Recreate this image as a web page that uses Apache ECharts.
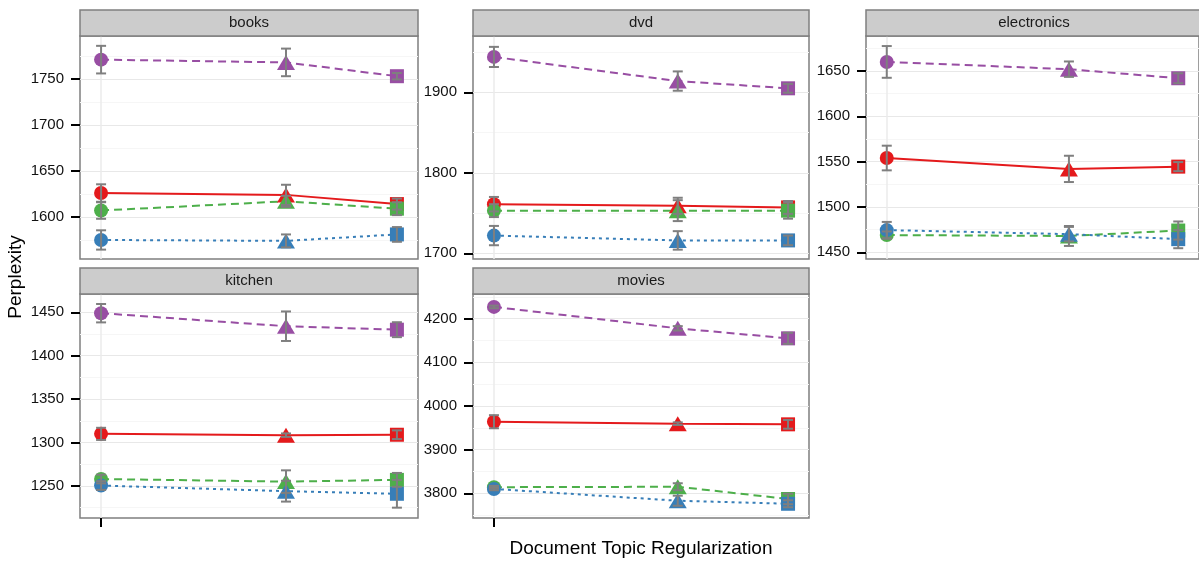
<!DOCTYPE html>
<html>
<head>
<meta charset="utf-8">
<script src="https://cdn.jsdelivr.net/npm/echarts@6/dist/echarts.min.js"></script>
<style>
  html, body { margin: 0; padding: 0; background: #fff; }
  #chart { width: 1199px; height: 564px; }
</style>
</head>
<body>
<div id="chart"></div>
<script>
// facets and x positions
const facets = ['books', 'dvd', 'electronics', 'kitchen', 'movies']
const xValues = [0, 1, 1.6]
const shapes = ['circle', 'triangle', 'rect']
// order: purple, red, green, blue
const groupColors = ['#984EA3', '#E41A1C', '#4DAF4A', '#377EB8']
const groupDash = [[8, 5], 'solid', [8, 5], [3, 4]]

const booksMean = [[1771, 1768, 1753], [1626, 1624, 1614], [1607, 1617, 1609], [1575, 1574, 1581]]
const booksErr = [[15, 15, 3.5], [9.5, 11, 6], [9, 6, 7], [10.5, 7, 8]]
const dvdMean = [[1944, 1914, 1905], [1761, 1759, 1757], [1753, 1753, 1753], [1722, 1716, 1716]]
const dvdErr = [[12.5, 12, 5.5], [9, 10, 8], [8, 13, 10], [12, 11.5, 6]]
const electronicsMean = [[1660, 1652, 1642], [1554, 1542, 1544.5], [1469, 1468, 1474], [1474.5, 1470, 1464.5]]
const electronicsErr = [[17.5, 8.5, 5.5], [13.6, 14.5, 5], [4, 11, 10], [9, 8, 10]]
const kitchenMean = [[1449, 1434, 1430], [1310, 1308.5, 1309], [1258, 1255, 1257], [1250.5, 1244, 1241]]
const kitchenErr = [[10.6, 17, 8.6], [7, 2, 5], [5, 13, 8], [5, 12, 16]]
const moviesMean = [[4227, 4178, 4155], [3964, 3959.5, 3958], [3814, 3815, 3787], [3810, 3783, 3776]]
const moviesErr = [[3, 5, 12.7], [15, 3, 10], [3, 8, 12], [3, 11.5, 8]]

// y tick labels and minor grid values
const booksTicks = [1600, 1650, 1700, 1750]
const dvdTicks = [1700, 1800, 1900]
const electronicsTicks = [1450, 1500, 1550, 1600, 1650]
const kitchenTicks = [1250, 1300, 1350, 1400, 1450]
const moviesTicks = [3800, 3900, 4000, 4100, 4200]
const booksMinor = [1575, 1625, 1675, 1725, 1775]
const dvdMinor = [1750, 1850, 1950]
const electronicsMinor = [1475, 1525, 1575, 1625, 1675]
const kitchenMinor = [1225, 1275, 1325, 1375, 1425]
const moviesMinor = [3750, 3850, 3950, 4050, 4150, 4250]

const means = [booksMean, dvdMean, electronicsMean, kitchenMean, moviesMean]
const errs = [booksErr, dvdErr, electronicsErr, kitchenErr, moviesErr]
const ticks = [booksTicks, dvdTicks, electronicsTicks, kitchenTicks, moviesTicks]
const minors = [booksMinor, dvdMinor, electronicsMinor, kitchenMinor, moviesMinor]
const yRanges = [[1554.3, 1796.7], [1692.9, 1970], [1442.6, 1688.6], [1213.1, 1471.1], [3743.4, 4256.6]]

// panel boxes
const panels = [
  {left: 80, top: 36, width: 338, height: 223},
  {left: 473, top: 36, width: 336, height: 223},
  {left: 866, top: 36, width: 336, height: 223},
  {left: 80, top: 294, width: 338, height: 224},
  {left: 473, top: 294, width: 336, height: 224},
]
const stripH = 26
const font = '"Liberation Sans", Arial, sans-serif'

const chart = echarts.init(document.getElementById('chart'))

const grid = panels.map(p => ({
  left: p.left, top: p.top, width: p.width, height: p.height,
  show: true, borderColor: '#7f7f7f', borderWidth: 1.5, backgroundColor: '#fff',
}))

const xAxis = panels.map((p, i) => ({
  type: 'value', gridIndex: i, min: -0.114, max: 1.714,
  axisLine: {show: false, onZero: false},
  axisTick: {show: i >= 3, length: 9, lineStyle: {color: '#000', width: 2}, customValues: [0]},
  axisLabel: {show: false, customValues: [0]},
  splitLine: {show: true, lineStyle: {color: '#ebebeb', width: 1.5}},
}))

const yAxis = []
panels.forEach((p, i) => {
  yAxis.push({
    type: 'value', gridIndex: i, min: yRanges[i][0], max: yRanges[i][1], position: 'left',
    axisLine: {show: false, onZero: false},
    axisTick: {show: true, length: 9, lineStyle: {color: '#000', width: 2}, customValues: ticks[i]},
    axisLabel: {
      customValues: ticks[i], color: '#111', fontSize: 15, fontFamily: font, margin: 16,
      formatter: v => String(v),
    },
    splitLine: {show: true, lineStyle: {color: '#e8e8e8', width: 1.2}},
  })
  yAxis.push({
    type: 'value', gridIndex: i, min: yRanges[i][0], max: yRanges[i][1], position: 'left',
    axisLine: {show: false, onZero: false},
    axisTick: {show: false, customValues: minors[i]},
    axisLabel: {show: false, customValues: minors[i]},
    splitLine: {show: true, lineStyle: {color: '#f6f6f6', width: 1.2}},
  })
})

const series = []
facets.forEach((f, i) => {
  means[i].forEach((vals, g) => {
    series.push({
      type: 'line', xAxisIndex: i, yAxisIndex: 2 * i, z: 2,
      showSymbol: false, silent: true, animation: false,
      lineStyle: {color: groupColors[g], width: 2, type: groupDash[g]},
      data: vals.map((v, k) => [xValues[k], v]),
    })
  })
  means[i].forEach((vals, g) => {
    series.push({
      type: 'scatter', xAxisIndex: i, yAxisIndex: 2 * i, z: 3, animation: false,
      itemStyle: {color: groupColors[g], opacity: 1},
      data: vals.map((v, k) => ({
        value: [xValues[k], v],
        symbol: shapes[k],
        symbolSize: k === 0 ? 14 : k === 1 ? [18, 15] : 14,
      })),
    })
  })
  const bars = []
  means[i].forEach((vals, g) => {
    vals.forEach((v, k) => bars.push([xValues[k], v - errs[i][g][k], v + errs[i][g][k]]))
  })
  series.push({
    type: 'custom', xAxisIndex: i, yAxisIndex: 2 * i, z: 4, animation: false,
    encode: {x: 0, y: [1, 2]},
    renderItem: (params, api) => {
      const lo = api.coord([api.value(0), api.value(1)])
      const hi = api.coord([api.value(0), api.value(2)])
      const hw = 5
      const st = {stroke: '#7f7f7f', lineWidth: 2}
      return {
        type: 'group',
        children: [
          {type: 'line', shape: {x1: lo[0], y1: lo[1], x2: hi[0], y2: hi[1]}, style: st},
          {type: 'line', shape: {x1: lo[0] - hw, y1: lo[1], x2: lo[0] + hw, y2: lo[1]}, style: st},
          {type: 'line', shape: {x1: hi[0] - hw, y1: hi[1], x2: hi[0] + hw, y2: hi[1]}, style: st},
        ],
      }
    },
    data: bars,
  })
})

// facet strips and axis titles
const graphic = []
panels.forEach((p, i) => {
  graphic.push({
    type: 'rect', z: 10,
    shape: {x: p.left, y: p.top - stripH, width: p.width, height: stripH},
    style: {fill: '#cccccc', stroke: '#7f7f7f', lineWidth: 1.5},
  })
  graphic.push({
    type: 'text', z: 11,
    x: p.left + p.width / 2, y: p.top - stripH / 2,
    style: {text: facets[i], font: '15px ' + font, fill: '#1a1a1a', align: 'center', verticalAlign: 'middle'},
  })
})
graphic.push({
  type: 'text', x: 641, y: 549,
  style: {text: 'Document Topic Regularization', font: '19px ' + font, fill: '#000', align: 'center', verticalAlign: 'middle'},
})
graphic.push({
  type: 'text', x: 16, y: 277, rotation: Math.PI / 2,
  style: {text: 'Perplexity', font: '19px ' + font, fill: '#000', align: 'center', verticalAlign: 'middle'},
})

chart.setOption({
  animation: false,
  grid: grid,
  xAxis: xAxis,
  yAxis: yAxis,
  series: series,
  graphic: graphic,
})
</script>
</body>
</html>
